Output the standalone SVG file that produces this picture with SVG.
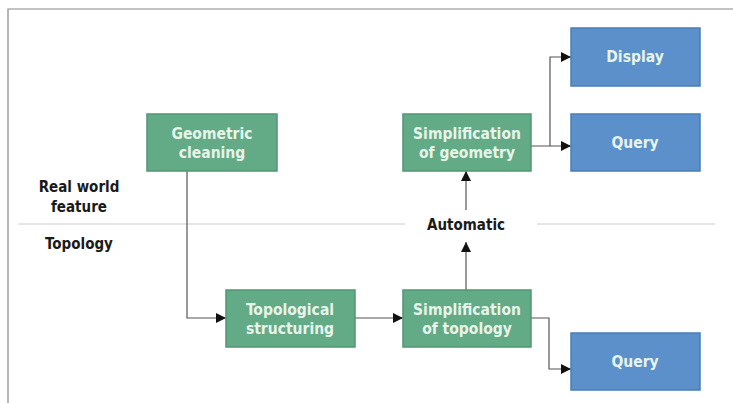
<svg xmlns="http://www.w3.org/2000/svg" width="733" height="403" viewBox="0 0 733 403">
<defs>
<marker id="ah" viewBox="0 0 10 10" refX="10" refY="5" markerWidth="10" markerHeight="10" markerUnits="userSpaceOnUse" orient="auto">
<path d="M0,0 L10,5 L0,10 z" fill="#111"/>
</marker>
<style>
.g{fill:#63aa86;stroke:#4f9673;stroke-width:1.5}
.b{fill:#5b90cb;stroke:#4a7db6;stroke-width:1.5}
.t{font-family:"DejaVu Sans Condensed","DejaVu Sans",sans-serif;font-weight:bold;font-size:15.5px;fill:#e8f4ea;text-anchor:middle}
.l{font-family:"DejaVu Sans Condensed","DejaVu Sans",sans-serif;font-weight:bold;font-size:15px;fill:#1a1a1a;text-anchor:middle}
.c{fill:none;stroke:#555;stroke-width:1.2}
</style>
</defs>
<rect width="733" height="403" fill="#fff"/>
<path d="M8,403 L8,9 L733,9" fill="none" stroke="#888" stroke-width="1.2"/>
<g id="divider">
<line x1="18" y1="224" x2="405" y2="224" stroke="#ccc" stroke-width="1"/>
<line x1="537" y1="224" x2="715" y2="224" stroke="#ccc" stroke-width="1"/>
</g>
<g id="labels">
<text class="l" x="79" y="192">Real world</text>
<text class="l" x="79" y="212">feature</text>
<text class="l" x="79" y="249">Topology</text>
<text class="l" x="466" y="230">Automatic</text>
</g>
<g id="connectors">
<path class="c" d="M187,171 L187,318 L226,318" marker-end="url(#ah)"/>
<path class="c" d="M355,318 L403,318" marker-end="url(#ah)"/>
<path class="c" d="M466,290 L466,242" marker-end="url(#ah)"/>
<path class="c" d="M466,210 L466,171" marker-end="url(#ah)"/>
<path class="c" d="M531,146 L571,146" marker-end="url(#ah)"/>
<path class="c" d="M550,146 L550,57 L571,57" marker-end="url(#ah)"/>
<path class="c" d="M531,318 L549,318 L549,369 L571,369" marker-end="url(#ah)"/>
</g>
<g id="geometric-cleaning">
<rect class="g" x="147" y="114" width="130" height="57"/>
<text class="t" x="212" y="139">Geometric</text>
<text class="t" x="212" y="158">cleaning</text>
</g>
<g id="simplification-geometry">
<rect class="g" x="403" y="114" width="128" height="57"/>
<text class="t" x="467" y="139">Simplification</text>
<text class="t" x="467" y="158">of geometry</text>
</g>
<g id="display">
<rect class="b" x="571" y="28" width="129" height="58"/>
<text class="t" x="635" y="62">Display</text>
</g>
<g id="query-top">
<rect class="b" x="571" y="114" width="129" height="57"/>
<text class="t" x="635" y="148">Query</text>
</g>
<g id="topological-structuring">
<rect class="g" x="226" y="290" width="129" height="57"/>
<text class="t" x="290" y="315">Topological</text>
<text class="t" x="290" y="334">structuring</text>
</g>
<g id="simplification-topology">
<rect class="g" x="403" y="290" width="128" height="57"/>
<text class="t" x="467" y="315">Simplification</text>
<text class="t" x="467" y="334">of topology</text>
</g>
<g id="query-bottom">
<rect class="b" x="571" y="333" width="129" height="57"/>
<text class="t" x="635" y="367">Query</text>
</g>
</svg>
